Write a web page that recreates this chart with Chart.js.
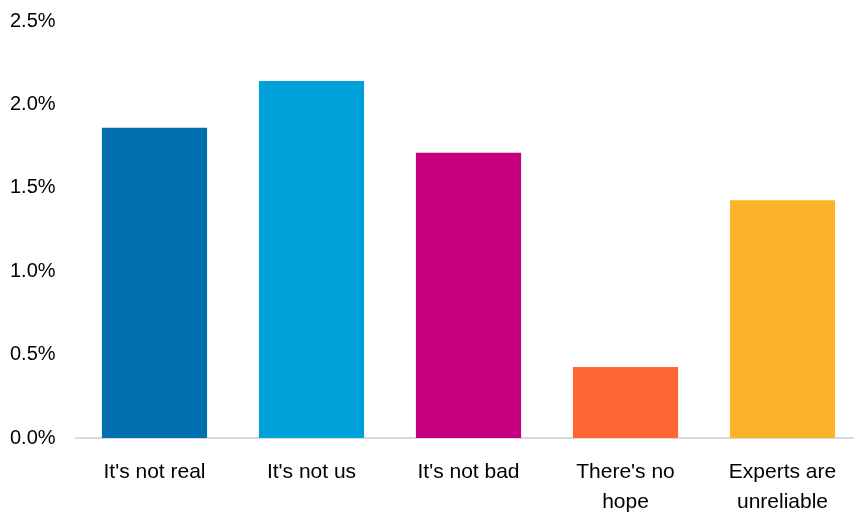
<!DOCTYPE html>
<html>
<head>
<meta charset="utf-8">
<script src="https://cdn.jsdelivr.net/npm/chart.js@4/dist/chart.umd.min.js"></script>
<style>
    html, body { margin: 0; padding: 0; background: #ffffff; overflow: hidden; }
    /* plot runs a few pixels past the right edge, so the frame crops it */
    #wrap { width: 854px; height: 512px; overflow: hidden; }
</style>
</head>
<body>
<div id="wrap"><canvas id="myChart" width="861" height="512"></canvas></div>
<script>
const categories = [["It's not real"], ["It's not us"], ["It's not bad"], ["There's no", "hope"], ["Experts are", "unreliable"]];
const shares = [1.86, 2.14, 1.71, 0.425, 1.425];
const barColors = ["#006EAF", "#00A0DA", "#C6007E", "#FF6633", "#FBB42A"];
const yTicks = [0, 0.5, 1.0, 1.5, 2.0, 2.5];

const fontFamily = "'Liberation Sans Narrow', 'Arial Narrow', 'Liberation Sans', Arial, sans-serif";

const chartContext = document.getElementById('myChart').getContext('2d');
new Chart(chartContext, {
    type: 'bar',
    data: {
        labels: categories,
        datasets: [
            {
                data: shares,
                backgroundColor: barColors,
                borderWidth: 0,
                categoryPercentage: 1,
                barPercentage: 0.67,
            },
        ]
    },
    options: {
        responsive: false,
        animation: false,
        layout: {
            padding: { top: 21, right: 0, bottom: 0, left: 10 }
        },
        plugins: {
            legend: { display: false },
            tooltip: { enabled: false },
        },
        scales: {
            x: {
                grid: { display: false, drawTicks: false },
                border: { display: true, color: "#d9d9d9", width: 2 },
                ticks: {
                    color: "#000000",
                    padding: 20,
                    maxRotation: 0,
                    autoSkip: false,
                    font: { family: fontFamily, size: 21, lineHeight: 1.4 }
                },
                afterFit: (scale) => { scale.height = 74; }
            },
            y: {
                min: 0,
                max: 2.5,
                afterBuildTicks: (scale) => { scale.ticks = yTicks.map(v => ({ value: v })); },
                grid: { display: false, drawTicks: false },
                border: { display: false },
                ticks: {
                    color: "#000000",
                    padding: 0,
                    crossAlign: 'far',
                    font: { family: fontFamily, size: 20 },
                    callback: (value) => value.toFixed(1) + '%'
                },
                afterFit: (scale) => { scale.width = 66; }
            }
        }
    }
});
</script>
</body>
</html>
